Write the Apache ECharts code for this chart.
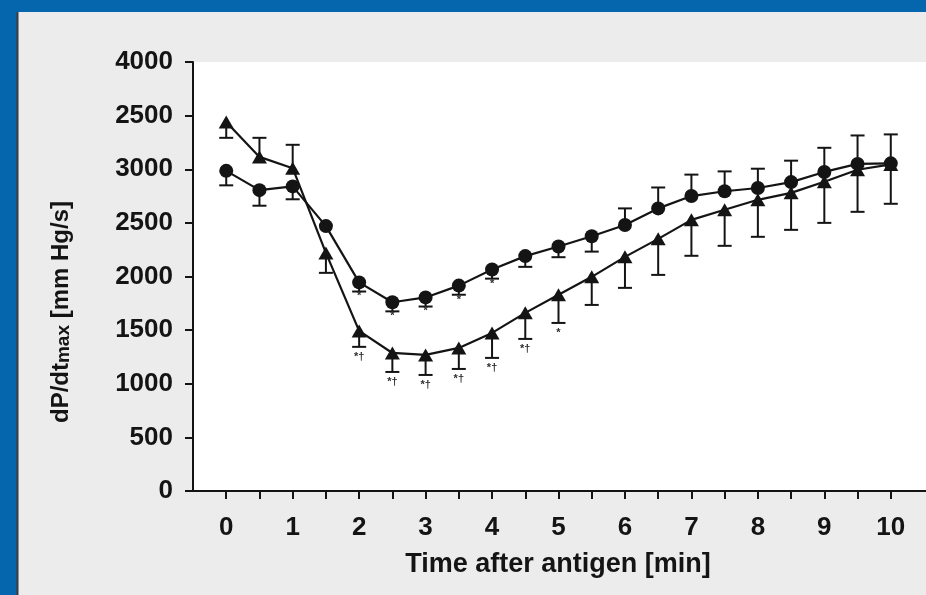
<!DOCTYPE html>
<html>
<head>
<meta charset="utf-8">
<title>dP/dtmax after antigen</title>
<script src="https://cdn.jsdelivr.net/npm/echarts@6/dist/echarts.min.js"></script>
<style>
  html, body { margin: 0; padding: 0; background: #0565ad; }
  #chart { width: 926px; height: 595px; }
</style>
</head>
<body>
<div id="chart"></div>
<script>
// Sampling times after antigen, minutes (every 30 s)
const minutes = [0, 0.5, 1, 1.5, 2, 2.5, 3, 3.5, 4, 4.5, 5, 5.5, 6, 6.5, 7, 7.5, 8, 8.5, 9, 9.5, 10];

// Circle group: mean dP/dtmax (mm Hg/s) and whisker ends (null = no whisker on that side)
const circleValues = [2985, 2805, 2840, 2470, 1945, 1760, 1805, 1915, 2065, 2190, 2280, 2375, 2480, 2635, 2750, 2795, 2825, 2880, 2975, 3050, 3055];
const circleLow    = [2850, 2660, 2720, null, 1860, 1675, 1720, 1830, 1980, 2090, 2180, 2232, null, null, null, null, null, null, null, null, null];
const circleHigh   = [null, null, null, null, null, null, null, null, null, null, null, null, 2635, 2830, 2950, 2980, 3005, 3080, 3200, 3315, 3325];

// Triangle group: mean dP/dtmax (mm Hg/s) and whisker ends
const triangleValues = [3440, 3115, 3010, 2220, 1493, 1287, 1269, 1334, 1474, 1661, 1829, 1997, 2183, 2351, 2528, 2622, 2715, 2780, 2883, 2995, 3045];
const triangleLow    = [3293, null, null, 2034, 1344, 1110, 1082, 1138, 1241, 1418, 1567, 1735, 1894, 2015, 2193, 2286, 2370, 2435, 2500, 2603, 2678];
const triangleHigh   = [null, 3293, 3228, null, null, null, null, null, null, null, null, null, null, null, null, null, null, null, null, null, null];

// Significance marks printed under the points
const circleMarks   = ['', '', '', '', '*', '*', '*', '*', '*', '', '', '', '', '', '', '', '', '', '', '', ''];
const triangleMarks = ['', '', '', '', '*†', '*†', '*†', '*†', '*†', '*†', '*', '', '', '', '', '', '', '', '', '', ''];

// Axis ticks and their printed labels
const xTickValues = [0, 0.5, 1, 1.5, 2, 2.5, 3, 3.5, 4, 4.5, 5, 5.5, 6, 6.5, 7, 7.5, 8, 8.5, 9, 9.5, 10];
const xLabelValues = [0, 1, 2, 3, 4, 5, 6, 7, 8, 9, 10];
const yTickValues = [0, 500, 1000, 1500, 2000, 2500, 3000, 3500, 4000];
const yTickLabels = ['0', '500', '1000', '1500', '2000', '2500', '3000', '2500', '4000'];

const INK = '#141414';
const FONT = '"Liberation Sans", Arial, Helvetica, sans-serif';

function pairs(values) {
  return minutes.map((t, i) => [t, values[i]]);
}

function whiskers(name, values, low, high, z) {
  return {
    type: 'custom',
    name: name,
    z: z,
    silent: true,
    data: minutes.map((t, i) => [t, values[i], low[i] == null ? NaN : low[i], high[i] == null ? NaN : high[i]]),
    encode: { x: 0, y: 1 },
    renderItem: function (params, api) {
      const t = api.value(0);
      const c = api.coord([t, api.value(1)]);
      const half = 7;
      const children = [];
      [2, 3].forEach(function (k) {
        const end = api.value(k);
        if (end == null || isNaN(end)) return;
        const p = api.coord([t, end]);
        children.push({ type: 'line', shape: { x1: c[0], y1: c[1], x2: p[0], y2: p[1] }, style: { stroke: INK, lineWidth: 2 } });
        children.push({ type: 'line', shape: { x1: p[0] - half, y1: p[1], x2: p[0] + half, y2: p[1] }, style: { stroke: INK, lineWidth: 2 } });
      });
      return { type: 'group', children: children };
    }
  };
}

function marks(name, values, low, labels, gap) {
  return {
    type: 'custom',
    name: name,
    z: 6,
    silent: true,
    data: minutes.map((t, i) => [t, low[i] == null ? values[i] : low[i]]),
    encode: { x: 0, y: 1 },
    renderItem: function (params, api) {
      const text = labels[params.dataIndex];
      if (!text) return null;
      const p = api.coord([api.value(0), api.value(1)]);
      return {
        type: 'text',
        x: p[0],
        y: p[1] + gap,
        style: { text: text, fill: '#2e2e2e', font: 'bold 11px ' + FONT, align: 'center', verticalAlign: 'middle' }
      };
    }
  };
}

const chart = echarts.init(document.getElementById('chart'), null, { renderer: 'canvas' });

chart.setOption({
  animation: false,
  backgroundColor: '#0565ad',
  graphic: [
    { type: 'rect', z: -100, silent: true, shape: { x: 17, y: 12, width: 909, height: 583 }, style: { fill: '#ececec' } },
    { type: 'line', z: -99, silent: true, shape: { x1: 17.5, y1: 12, x2: 17.5, y2: 595 }, style: { stroke: '#3c3c3c', lineWidth: 2 } },
    {
      type: 'text', silent: true, x: 61, y: 312, rotation: Math.PI / 2,
      style: {
        text: '{m|dP/dt}{s|max}{m| [mm Hg/s]}',
        align: 'center', verticalAlign: 'middle', fill: INK,
        rich: {
          m: { fontFamily: FONT, fontWeight: 'bold', fontSize: 24, fill: INK, color: INK },
          s: { fontFamily: FONT, fontWeight: 'bold', fontSize: 19, fill: INK, color: INK, padding: [5, 0, 0, 0] }
        }
      }
    },
    {
      type: 'text', silent: true, x: 558, y: 565,
      style: { text: 'Time after antigen [min]', font: 'bold 27px ' + FONT, fill: INK, align: 'center', verticalAlign: 'middle' }
    }
  ],
  grid: {
    left: 193, right: 0, top: 62, bottom: 104,
    show: true, backgroundColor: '#ffffff', borderWidth: 0
  },
  xAxis: {
    type: 'value',
    min: -0.5,
    max: 10.53,
    axisLine: { show: true, onZero: false, lineStyle: { color: INK, width: 2 } },
    axisTick: { show: true, inside: false, length: 8, customValues: xTickValues, lineStyle: { color: INK, width: 2 } },
    axisLabel: {
      show: true, customValues: xLabelValues, margin: 24,
      color: INK, fontFamily: FONT, fontWeight: 'bold', fontSize: 26,
      formatter: function (v) { return String(v); }
    },
    splitLine: { show: false }
  },
  yAxis: {
    type: 'value',
    min: 0,
    max: 4000,
    interval: 500,
    axisLine: { show: true, onZero: false, lineStyle: { color: INK, width: 2 } },
    axisTick: { show: true, inside: false, length: 8, lineStyle: { color: INK, width: 2 } },
    axisLabel: {
      margin: 20, color: INK, fontFamily: FONT, fontWeight: 'bold', fontSize: 26,
      formatter: function (v) {
        const i = yTickValues.indexOf(v);
        return i >= 0 ? yTickLabels[i] : '';
      }
    },
    splitLine: { show: false }
  },
  series: [
    whiskers('triangle whiskers', triangleValues, triangleLow, triangleHigh, 2),
    {
      type: 'line', name: 'triangles', z: 3,
      data: pairs(triangleValues),
      symbol: 'triangle', symbolSize: [15, 13],
      lineStyle: { color: INK, width: 2.2 },
      itemStyle: { color: INK, borderWidth: 0 }
    },
    whiskers('circle whiskers', circleValues, circleLow, circleHigh, 4),
    {
      type: 'line', name: 'circles', z: 5,
      data: pairs(circleValues),
      symbol: 'circle', symbolSize: 14,
      lineStyle: { color: INK, width: 2.2 },
      itemStyle: { color: INK, borderWidth: 0 }
    },
    marks('circle marks', circleValues, minutes.map(() => null), circleMarks, 14),
    marks('triangle marks', triangleValues, triangleLow, triangleMarks, 10)
  ]
});
</script>
</body>
</html>
